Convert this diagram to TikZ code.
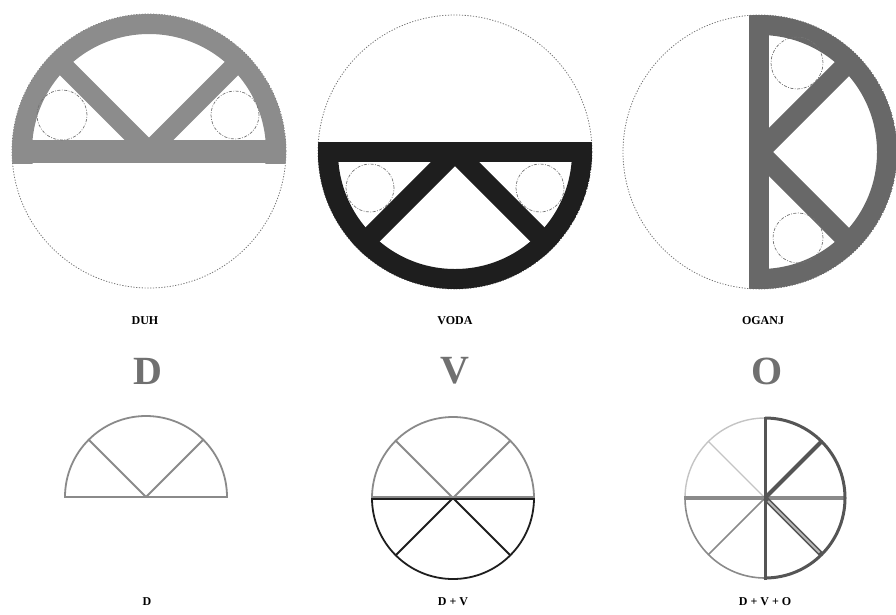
\documentclass[tikz,border=0pt]{standalone}
\usepackage{fontspec}
\setmainfont{Liberation Serif}
\usetikzlibrary{calc}
\definecolor{gA}{HTML}{8C8C8C}
\definecolor{gB}{HTML}{1E1E1E}
\definecolor{gC}{HTML}{686868}
\definecolor{gL}{HTML}{C4C4C4}
\definecolor{gM}{HTML}{8A8A8A}
\definecolor{gD}{HTML}{555555}
\definecolor{gT}{HTML}{707070}
\begin{document}
\begin{tikzpicture}[x=1pt,y=-1pt,
  outline/.style={draw=gray!90!black, dash pattern=on 1.2pt off 1.6pt, line width=0.8pt},
  smallc/.style={draw=gray!90!black, line width=0.7pt, dash pattern=on 3pt off 1.5pt on 0.8pt off 1.5pt},
  lab/.style={font=\fontsize{12}{12}\selectfont\bfseries, inner sep=0pt},
  biglet/.style={font=\fontsize{40}{40}\selectfont\bfseries, text=gT, inner sep=0pt},
  thin/.style={line width=1.8pt}]
\useasboundingbox (0,0) rectangle (896,614);

% ---------- circle 1 : DUH ----------
\coordinate (c1) at (149,151);
\draw[outline] (c1) circle[radius=137pt];
\begin{scope}
  \clip (c1) circle[radius=137pt];
  \clip (0,0) rectangle (896,163);
  \draw[gA, line width=20pt] (c1) circle[radius=127pt];
  \draw[gA, line width=23pt] ($(c1)+(-150,0.5)$) -- ($(c1)+(150,0.5)$);
  \draw[gA, line width=19pt] (c1) -- ++(-160,-160);
  \draw[gA, line width=19pt] (c1) -- ++(160,-160);
\end{scope}
\draw[smallc] (62,115) circle[radius=25pt];
\draw[smallc] (235,115) circle[radius=24pt];

% ---------- circle 2 : VODA ----------
\coordinate (c2) at (455,152);
\draw[outline] (c2) circle[radius=137pt];
\begin{scope}
  \clip (c2) circle[radius=137pt];
  \clip (0,142) rectangle (896,614);
  \draw[gB, line width=20pt] (c2) circle[radius=127pt];
  \draw[gB, line width=20pt] ($(c2)+(-150,0)$) -- ($(c2)+(150,0)$);
  \draw[gB, line width=20pt] (c2) -- ++(-160,160);
  \draw[gB, line width=20pt] (c2) -- ++(160,160);
\end{scope}
\draw[smallc] (370,188) circle[radius=24pt];
\draw[smallc] (540,188) circle[radius=24pt];

% ---------- circle 3 : OGANJ ----------
\coordinate (c3) at (760,152);
\draw[outline] (c3) circle[radius=137pt];
\begin{scope}
  \clip (c3) circle[radius=137pt];
  \clip (749,0) rectangle (900,614);
  \draw[gC, line width=20pt] (c3) circle[radius=127pt];
  \draw[gC, line width=20pt] (759,0) -- (759,310);
  \draw[gC, line width=20pt] (759,152) -- ++(160,-160);
  \draw[gC, line width=20pt] (759,152) -- ++(160,160);
\end{scope}
\draw[smallc] (797,63) circle[radius=26pt];
\draw[smallc] (798,238) circle[radius=25pt];

% ---------- labels ----------
\node[lab] (l1) at (145,321) {DUH};
\node[lab] (l2) at (455,321) {VODA};
\node[lab] (l3) at (763,321) {OGANJ};
\node[biglet] (b1) at (148,371) {D};
\node[biglet] (b2) at (455,371) {V};
\node[biglet] (b3) at (767,371) {O};

% ---------- bottom 1 : D ----------
\coordinate (d1) at (146,497);
\draw[gM, thin] ($(d1)+(-81,0)$) arc[start angle=180, end angle=0, radius=81pt] -- cycle;
\draw[gM, thin] (d1) -- ++(-57.3,-57.3);
\draw[gM, thin] (d1) -- ++(57.3,-57.3);

% ---------- bottom 2 : D + V ----------
\coordinate (d2) at (453,498);
\draw[gM, thin] ($(d2)+(-81,0)$) arc[start angle=180, end angle=0, radius=81pt];
\draw[gM, thin] (d2) -- ++(-57.3,-57.3);
\draw[gM, thin] (d2) -- ++(57.3,-57.3);
\draw[gB, thin] ($(d2)+(-81,0)$) arc[start angle=-180, end angle=0, radius=81pt];
\draw[gB, thin] (d2) -- ++(-57.3,57.3);
\draw[gB, thin] (d2) -- ++(57.3,57.3);
\draw[gM, line width=2pt] ($(d2)+(-81,-1.2)$) -- ($(d2)+(81,-1.2)$);
\draw[gB, line width=2pt] ($(d2)+(-81,1.2)$) -- ($(d2)+(81,1.2)$);

% ---------- bottom 3 : D + V + O ----------
\coordinate (d3) at (765,498);
\draw[gL, line width=1.4pt] ($(d3)+(-80,0)$) arc[start angle=180, end angle=90, radius=80pt];
\draw[gL, line width=1.4pt] (d3) -- ++(-56.6,-56.6);
\draw[gM, line width=1.6pt] ($(d3)+(-80,0)$) arc[start angle=-180, end angle=-90, radius=80pt];
\draw[gM, line width=1.6pt] (d3) -- ++(-56.6,56.6);
\draw[gM, line width=3.5pt] ($(d3)+(-81,0)$) -- ($(d3)+(80,0)$);
\draw[gD, line width=3pt] ($(d3)+(0,80)$) arc[start angle=-90, end angle=90, radius=80pt];
\draw[gD, line width=3pt] ($(d3)+(0,82)$) -- ($(d3)+(0,-81)$);
\draw[gD, line width=4pt] (d3) -- ++(56.6,-56.6);
\draw[gD, line width=5pt] (d3) -- ++(56.6,56.6);
\draw[gM!60, line width=1.8pt] ($(d3)+(3,3)$) -- ++(51.6,51.6);

% ---------- bottom labels ----------
\node[lab] (e1) at (147,602) {D};
\node[lab] (e2) at (453,602) {D + V};
\node[lab] (e3) at (765,602) {D + V + O};
\end{tikzpicture}
\end{document}
